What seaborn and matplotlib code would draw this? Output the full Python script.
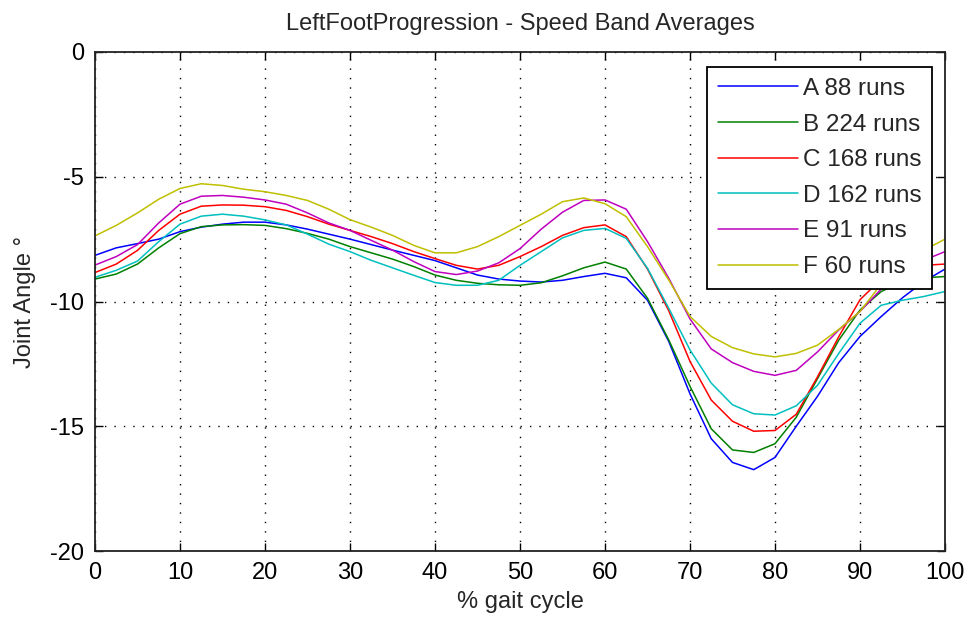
import numpy as np
import pandas as pd
import matplotlib
matplotlib.use("Agg")
import matplotlib.pyplot as plt
import seaborn as sns
from matplotlib.lines import Line2D

# % gait cycle
gait = [0, 2.5, 5, 7.5, 10, 12.5, 15, 17.5, 20, 22.5, 25, 27.5, 30, 32.5, 35, 37.5,
        40, 42.5, 45, 47.5, 50, 52.5, 55, 57.5, 60, 62.5, 65, 67.5, 70, 72.5, 75,
        77.5, 80, 82.5, 85, 87.5, 90, 92.5, 95, 97.5, 100]

band_a = [-8.15, -7.85, -7.68, -7.5, -7.2, -7.02, -6.9, -6.82, -6.82, -6.93, -7.1, -7.3,
          -7.5, -7.72, -7.94, -8.15, -8.36, -8.65, -8.94, -9.1, -9.18, -9.22, -9.15,
          -9.0, -8.87, -9.05, -9.95, -11.6, -13.7, -15.5, -16.45, -16.74, -16.25, -15.0,
          -13.8, -12.45, -11.4, -10.6, -9.85, -9.2, -8.7]
band_b = [-9.1, -8.9, -8.5, -7.85, -7.28, -7.0, -6.93, -6.92, -6.95, -7.08, -7.27, -7.5,
          -7.8, -8.05, -8.3, -8.6, -8.94, -9.15, -9.27, -9.33, -9.35, -9.25, -8.97,
          -8.65, -8.42, -8.7, -9.87, -11.54, -13.4, -15.1, -15.95, -16.05, -15.7,
          -14.64, -13.09, -11.55, -10.34, -9.6, -9.2, -9.05, -9.0]
band_c = [-8.84, -8.5, -7.95, -7.15, -6.5, -6.18, -6.13, -6.14, -6.2, -6.35, -6.6, -6.9,
          -7.15, -7.4, -7.68, -8.0, -8.28, -8.55, -8.7, -8.55, -8.2, -7.8, -7.35,
          -7.04, -6.93, -7.4, -8.7, -10.37, -12.4, -13.95, -14.8, -15.2, -15.17,
          -14.52, -13.02, -11.41, -9.93, -9.1, -8.7, -8.55, -8.5]
band_d = [-9.03, -8.75, -8.38, -7.6, -6.9, -6.58, -6.5, -6.58, -6.73, -6.93, -7.3, -7.7,
          -8.0, -8.35, -8.65, -8.95, -9.24, -9.35, -9.35, -9.15, -8.55, -8.0, -7.45,
          -7.15, -7.07, -7.47, -8.67, -10.27, -11.94, -13.27, -14.14, -14.5, -14.55,
          -14.18, -13.36, -12.08, -10.87, -10.15, -9.95, -9.8, -9.6]
band_e = [-8.54, -8.2, -7.72, -6.85, -6.1, -5.78, -5.75, -5.82, -5.93, -6.1, -6.45,
          -6.85, -7.15, -7.55, -7.94, -8.4, -8.8, -8.92, -8.78, -8.45, -7.88, -7.1,
          -6.42, -5.95, -5.93, -6.3, -7.6, -9.07, -10.7, -11.9, -12.45, -12.8, -12.96,
          -12.76, -12.02, -11.14, -10.4, -9.5, -8.8, -8.35, -8.0]
band_f = [-7.37, -6.95, -6.45, -5.9, -5.47, -5.28, -5.35, -5.5, -5.6, -5.75, -5.95,
          -6.3, -6.72, -7.02, -7.35, -7.75, -8.05, -8.05, -7.8, -7.4, -6.95, -6.5,
          -6.0, -5.85, -6.08, -6.6, -7.8, -9.14, -10.6, -11.4, -11.85, -12.1, -12.22,
          -12.08, -11.75, -11.12, -10.4, -9.3, -8.5, -7.95, -7.5]

labels = ["A 88 runs", "B 224 runs", "C 168 runs", "D 162 runs", "E 91 runs", "F 60 runs"]
colors = ["#0000ff", "#008000", "#ff0000", "#00bfbf", "#bf00bf", "#bfbf00"]
series = [band_a, band_b, band_c, band_d, band_e, band_f]

x_ticks = [0, 10, 20, 30, 40, 50, 60, 70, 80, 90, 100]
y_ticks = [-20, -15, -10, -5, 0]

df = pd.concat(
    [pd.DataFrame({"gait": gait, "angle": vals, "band": lab}) for lab, vals in zip(labels, series)],
    ignore_index=True,
)

sns.set_style("white")
plt.rcParams["font.family"] = ["Liberation Sans", "DejaVu Sans"]
FS = 17

fig = plt.figure(figsize=(9.73, 6.24), dpi=100)
ax = fig.add_axes([95 / 973, 1 - 551 / 624, 850 / 973, 499 / 624])

sns.lineplot(data=df, x="gait", y="angle", hue="band", hue_order=labels,
             palette=dict(zip(labels, colors)), linewidth=1.1, ax=ax, legend=False,
             sort=False)

ax.set_xlim(0, 100)
ax.set_ylim(-20, 0)
ax.set_xticks(x_ticks)
ax.set_yticks(y_ticks)
ax.set_xticklabels([str(t) for t in x_ticks], fontsize=FS)
ax.set_yticklabels([str(t) for t in y_ticks], fontsize=FS)

ax.grid(True, color="black", linestyle=(0, (1, 5.8)), linewidth=1.0)
ax.tick_params(direction="in", length=6, width=1.0, top=True, right=True,
               bottom=True, left=True, colors="black", pad=8)
for sp in ax.spines.values():
    sp.set_color("#222222")
    sp.set_linewidth(1.3)

ax.set_xlabel("% gait cycle", fontsize=FS, labelpad=5)
ax.set_ylabel("Joint Angle °", fontsize=FS, labelpad=10)
ax.set_title("LeftFootProgression - Speed Band Averages", fontsize=FS, pad=16)

handles = [Line2D([0], [0], color=c, linewidth=1.1) for c in colors]
leg = ax.legend(handles, labels, loc="upper right", bbox_to_anchor=(0.985, 0.97),
                borderaxespad=0, fontsize=17.5, frameon=True, fancybox=False,
                framealpha=1, edgecolor="black", handlelength=3.3,
                handletextpad=0.2, labelspacing=0.56, borderpad=0.45)
leg.get_frame().set_linewidth(1.3)

fig.savefig("out.png", dpi=100, facecolor="white")
